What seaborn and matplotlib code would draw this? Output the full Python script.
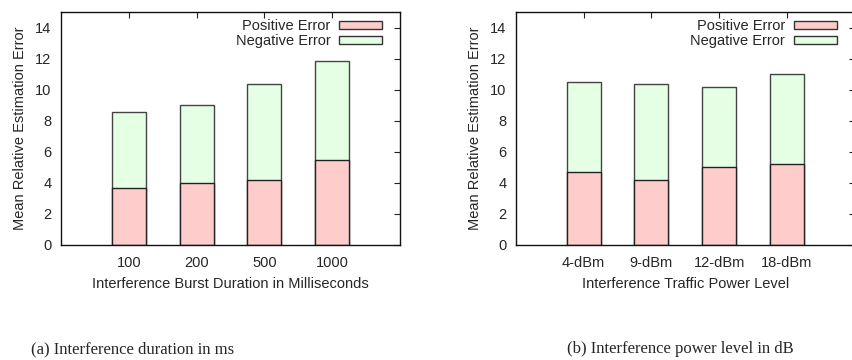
import matplotlib
matplotlib.use("Agg")
import matplotlib.pyplot as plt
import seaborn as sns
import pandas as pd
from matplotlib.patches import Patch

# Data
dur_labels = ["100", "200", "500", "1000"]
dur_positive = [3.7, 4.0, 4.2, 5.5]
dur_negative = [4.9, 5.0, 6.2, 6.35]

pow_labels = ["4-dBm", "9-dBm", "12-dBm", "18-dBm"]
pow_positive = [4.7, 4.2, 5.0, 5.25]
pow_negative = [5.8, 6.2, 5.2, 5.8]

ylabel = "Mean Relative Estimation Error"
xlabels = ["Interference Burst Duration in Milliseconds", "Interference Traffic Power Level"]
captions = ["(a) Interference duration in ms", "(b) Interference power level in dB"]
legend_labels = ["Positive Error", "Negative Error"]

POS_COLOR = "#ffcccc"
NEG_COLOR = "#e5ffe5"
FS = 10.5

sns.set_style("white")
plt.rcParams["font.family"] = ["Liberation Sans", "DejaVu Sans"]

fig = plt.figure(figsize=(8.52, 3.6), dpi=100)
ax1 = fig.add_axes([61 / 852, 1 - 245 / 360, 339 / 852, (245 - 12.2) / 360])
ax2 = fig.add_axes([516 / 852, 1 - 245 / 360, 338.5 / 852, (245 - 12.2) / 360])

panels = [
    (ax1, dur_labels, dur_positive, dur_negative),
    (ax2, pow_labels, pow_positive, pow_negative),
]

for i, (ax, labels, pos, neg) in enumerate(panels):
    df = pd.DataFrame({
        "cat": labels,
        "pos": pos,
        "total": [p + n for p, n in zip(pos, neg)],
    })
    sns.barplot(data=df, x="cat", y="total", color=NEG_COLOR, saturation=1,
                width=0.5, edgecolor="#444444", linewidth=1.0, ax=ax)
    sns.barplot(data=df, x="cat", y="pos", color=POS_COLOR, saturation=1,
                width=0.5, edgecolor="#222222", linewidth=1.0, ax=ax)
    ax.set_xlim(-1, 4)
    ax.set_ylim(0, 15)
    ax.set_yticks([0, 2, 4, 6, 8, 10, 12, 14])
    ax.set_xlabel(xlabels[i], fontsize=FS, labelpad=5)
    ax.set_ylabel(ylabel, fontsize=FS, labelpad=6)
    ax.tick_params(axis="both", direction="in", length=4, width=0.8,
                   labelsize=FS, top=True, right=True, bottom=False,
                   color="#222222")
    ax.tick_params(axis="y", pad=7)
    ax.tick_params(axis="x", pad=8)
    for s in ax.spines.values():
        s.set_visible(True)
        s.set_color("#111111")
        s.set_linewidth(1.0)
    handles = [
        Patch(facecolor=POS_COLOR, edgecolor="#333333", linewidth=1.0),
        Patch(facecolor=NEG_COLOR, edgecolor="#333333", linewidth=1.0),
    ]
    ax.legend(handles, legend_labels, loc="upper right", frameon=False,
              markerfirst=False, fontsize=FS, handlelength=2.95,
              handleheight=0.5, handletextpad=0.6, labelspacing=0.08,
              borderaxespad=0.0, borderpad=0.0,
              bbox_to_anchor=(0.947, 0.97))

# Captions
cap_font = ["Liberation Serif", "DejaVu Serif"]
fig.text(133 / 852, 1 - 349 / 360, captions[0], ha="center", va="center",
         fontsize=12, family=cap_font)
fig.text(680 / 852, 1 - 349 / 360, captions[1], ha="center", va="center",
         fontsize=12, family=cap_font)

fig.savefig("out.png", dpi=100)
